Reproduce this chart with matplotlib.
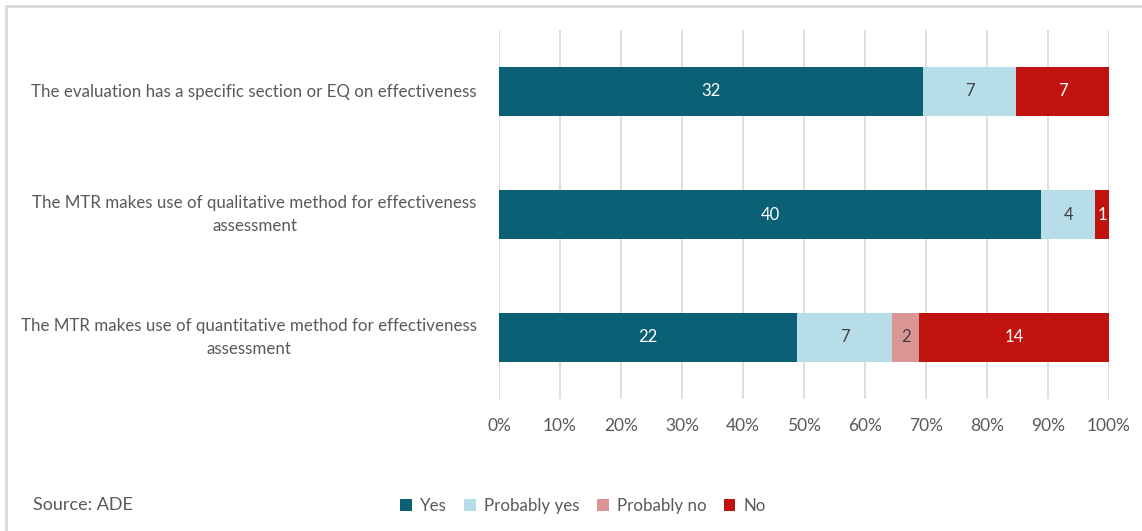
import matplotlib
matplotlib.use("Agg")
import matplotlib.pyplot as plt
from matplotlib.patches import Rectangle, Patch
import numpy as np

categories = [
    "The evaluation has a specific section or EQ on effectiveness",
    "The MTR makes use of qualitative method for effectiveness\nassessment",
    "The MTR makes use of quantitative method for effectiveness\nassessment",
]
series_names = ["Yes", "Probably yes", "Probably no", "No"]
yes = [32, 40, 22]
prob_yes = [7, 4, 7]
prob_no = [0, 0, 2]
no = [7, 1, 14]
xticks = [0, 10, 20, 30, 40, 50, 60, 70, 80, 90, 100]

colors = ["#0B6075", "#B7DEE8", "#DA9694", "#C0130F"]
label_colors = ["white", "#404040", "#404040", "white"]
text_gray = "#595959"

plt.rcParams['font.family'] = ['Lato', 'DejaVu Sans']

fig = plt.figure(figsize=(11.42, 5.31), dpi=100)
ax = fig.add_axes([499/1142, 1-399/531, 610/1142, 369/531])

data = np.array([yes, prob_yes, prob_no, no], dtype=float)
totals = data.sum(axis=0)
pct = data / totals * 100
ypos = np.arange(len(categories))

left = np.zeros(len(categories))
for i, name in enumerate(series_names):
    ax.barh(ypos, pct[i], left=left, height=0.4, color=colors[i], label=name, zorder=3)
    for j in range(len(categories)):
        if data[i, j] > 0:
            ax.text(left[j] + pct[i, j]/2, ypos[j], f"{int(data[i, j])}",
                    ha='center', va='center', color=label_colors[i], fontsize=12, zorder=4)
    left += pct[i]

ax.set_ylim(2.5, -0.5)
ax.set_xlim(0, 100)
ax.set_xticks(xticks)
ax.set_xticklabels([f"{t}%" for t in xticks], fontsize=12.5)
ax.set_yticks(ypos)
ax.set_yticklabels(categories, multialignment='center', linespacing=1.55, fontsize=12.2)
for lbl in ax.get_yticklabels():
    lbl.set_va('center')
ax.grid(axis='x', color='#D9D9D9', linewidth=1.2, zorder=0)
for s in ax.spines.values():
    s.set_visible(False)
ax.tick_params(axis='both', length=0, colors=text_gray)
ax.tick_params(axis='y', pad=16)
ax.tick_params(axis='x', pad=14)

# border
fig.patches.append(Rectangle((6/1142, -0.1), 1.2, 1 - 6/531 + 0.1, transform=fig.transFigure,
                             fill=False, edgecolor='#D9D9D9', linewidth=2))

fig.text(33/1142, 1-505/531, "Source: ADE", color=text_gray, fontsize=13, va='center', ha='left')

handles = [Patch(facecolor=c, edgecolor='none') for c in colors]
fig.legend(handles, series_names, loc='center', bbox_to_anchor=(583/1142, 1-506/531), ncol=4,
           frameon=False, fontsize=12.2, labelcolor=text_gray, handlelength=0.7, handleheight=0.7,
           handletextpad=0.5, columnspacing=1.0)

fig.savefig("out.png", dpi=100)
